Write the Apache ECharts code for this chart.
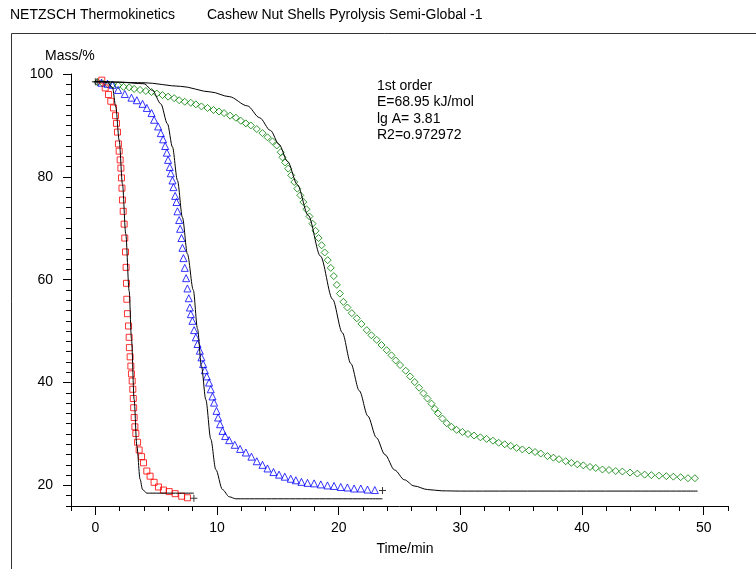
<!DOCTYPE html>
<html>
<head>
<meta charset="utf-8">
<script src="https://cdn.jsdelivr.net/npm/echarts@6/dist/echarts.min.js"></script>
<style>
html,body{margin:0;padding:0;background:#fff;}
#chart{width:756px;height:569px;}
</style>
</head>
<body>
<div id="chart"></div>
<script>
// ---- data (time in min, mass in %) ----
var redTime = [0.53,0.81,1.08,1.27,1.49,1.66,1.74,1.82,1.9,1.96,2.04,2.1,2.15,2.19,2.23,2.29,2.37,2.42,2.48,2.53,2.56,2.59,2.64,2.73,2.78,2.8,2.86,2.92,2.97,3.03,3.08,3.12,3.15,3.19,3.25,3.33,3.47,3.6,3.8,3.96,4.23,4.5,4.83,5.19,5.6,6.07,6.56,7.1,7.57];
var redMass = [98.8,97.3,96.0,94.7,93.4,91.9,90.4,88.7,86.4,85.0,83.3,81.7,79.8,77.8,75.5,73.3,70.8,68.1,65.4,62.4,59.3,56.2,53.4,51.0,48.8,46.8,45.0,43.2,41.7,40.3,38.7,36.9,35.1,33.2,31.4,30.1,28.4,26.9,25.6,24.4,22.8,21.8,20.6,19.7,19.1,18.8,18.4,17.9,17.6];

var blueTime = [0.5,1.0,1.41,1.87,2.42,2.97,3.41,3.88,4.23,4.62,4.83,5.16,5.38,5.57,5.74,5.88,5.98,6.12,6.2,6.34,6.42,6.56,6.67,6.75,6.89,6.97,7.08,7.16,7.24,7.35,7.46,7.57,7.68,7.77,7.85,7.98,8.12,8.26,8.4,8.59,8.72,8.86,9.0,9.16,9.35,9.49,9.63,9.76,9.96,10.09,10.25,10.45,10.67,11.0,11.46,11.9,12.37,12.83,13.27,13.74,14.15,14.64,15.1,15.57,16.06,16.48,16.94,17.44,17.98,18.53,19.08,19.62,20.17,20.72,21.27,21.82,22.37,22.97];
var blueMass = [98.3,98.1,97.9,96.9,96.1,95.4,94.9,94.2,93.4,92.4,91.1,89.8,88.5,87.3,86.0,84.7,83.3,81.9,80.7,79.3,78.0,76.3,75.1,73.3,71.6,69.9,68.1,66.2,64.2,62.3,60.3,58.3,56.4,54.6,53.3,52.0,50.2,48.8,47.5,46.2,44.9,43.6,42.4,41.2,40.0,38.7,37.3,36.1,34.5,33.2,31.9,30.6,29.6,28.8,27.9,27.1,26.4,25.6,24.7,24.0,23.3,22.6,22.1,21.7,21.3,21.0,20.7,20.5,20.4,20.2,20.0,19.9,19.7,19.6,19.4,19.4,19.2,19.1];

var greenTime = [0.18,0.59,1.0,1.41,1.87,2.32,2.78,3.19,3.68,4.15,4.62,5.05,5.52,5.98,6.48,6.89,7.35,7.85,8.26,8.72,9.22,9.71,10.17,10.58,11.08,11.55,11.96,12.37,12.78,13.27,13.74,14.15,14.56,14.91,15.24,15.38,15.6,15.85,16.1,16.35,16.6,16.85,17.1,17.35,17.6,17.85,18.1,18.35,18.6,18.85,19.1,19.35,19.6,19.85,20.1,20.39,20.72,21.08,21.49,21.87,22.31,22.69,23.13,23.52,23.95,24.34,24.69,25.05,25.51,25.87,26.25,26.61,26.97,27.3,27.63,27.9,28.17,28.53,28.88,29.27,29.7,30.17,30.63,31.13,31.65,32.16,32.68,33.15,33.65,34.14,34.63,35.1,35.65,36.14,36.61,37.16,37.65,38.11,38.66,39.13,39.62,40.11,40.66,41.13,41.68,42.22,42.77,43.32,43.95,44.55,45.15,45.7,46.33,46.93,47.51,48.11,48.71,49.28];
var greenMass = [98.4,98.2,98.0,97.9,97.8,97.5,97.4,97.1,96.9,96.7,96.5,96.2,95.9,95.6,95.3,94.9,94.6,94.4,94.1,93.7,93.4,93.0,92.7,92.4,91.9,91.5,90.9,90.4,90.0,89.3,88.5,87.7,86.9,86.1,84.8,83.8,82.8,81.6,80.3,79.0,77.7,76.4,75.1,73.7,72.3,70.9,69.5,68.1,66.7,65.3,63.8,62.3,60.7,59.0,57.3,55.7,54.6,53.5,52.5,51.4,50.2,49.2,48.3,47.3,46.3,45.3,44.3,43.4,42.3,41.2,40.1,39.0,37.9,36.9,35.9,34.9,34.0,33.0,32.1,31.4,30.8,30.4,30.0,29.7,29.35,29.05,28.7,28.3,28.0,27.7,27.3,27.0,26.8,26.5,26.2,25.7,25.4,25.1,24.7,24.4,24.1,23.9,23.6,23.4,23.1,23.0,22.8,22.7,22.5,22.3,22.1,22.0,21.9,21.8,21.7,21.6,21.4,21.4];

// fitted model curves (1st order)
var fitRedTime = [0,0.5,1.0,1.41,1.68,1.96,2.23,2.5,2.78,2.97,3.19,3.41,3.68,3.88,4.23,8.1];
var fitRedMass = [98.5,98.5,98.3,97.4,93.6,87.1,78.6,68.9,57.8,48.5,36.7,27.7,21.2,19.2,18.5,18.5];
var fitBlueTime = [0,2,4.0,4.7,5.38,5.93,6.34,6.75,7.16,7.57,8.05,8.4,8.72,9.08,9.49,9.9,10.45,11.0,11.55,23.6];
var fitBlueMass = [98.5,98.4,98.1,96.8,94.2,90.3,85.8,79.3,72.1,65.0,58.0,50.4,43.2,36.7,29.0,23.1,19.2,17.8,17.4,17.4];
var fitGreenTime = [0,4,7,9.5,11,12.5,13.5,14.4,15.1,15.8,16.6,17.5,18.5,19.5,20.3,21.0,21.7,22.4,23.1,23.8,24.6,25.4,26.2,27.3,28.5,30,49.5];
var fitGreenMass = [98.6,98.3,97.6,96.5,95.6,93.8,91.5,89.0,86.3,83.0,78.5,72.5,64.6,56.2,49.7,43.7,38.4,33.5,29.3,26.0,23.0,21.1,19.9,19.2,18.95,18.9,18.9];

// start / end crosses
var crossTime = [0, 0.15, 8.1, 23.6];
var crossMass = [98.5, 98.5, 17.5, 19.0];

var xTickValues = [0,10,20,30,40,50];
var yTickValues = [20,40,60,80,100];
var yMinorTickValues = ['16','18','20','22','24','26','28','30','32','34','36','38','40','42','44','46','48','50','52','54','56','58','60','62','64','66','68','70','72','74','76','78','80','82','84','86','88','90','92','94','96','98','100'];
var noteLines = ['1st order','E=68.95 kJ/mol','lg A= 3.81','R2=o.972972'];

function zip(a,b){ var r=[]; for(var i=0;i<a.length;i++) r.push([a[i],b[i]]); return r; }

var FONT = 'Liberation Sans, Arial, sans-serif';
var chart = echarts.init(document.getElementById('chart'), null, {renderer:'canvas'});

var gLeft = 71, gTop = 74, gW = 657, gH = 432;
var xMin = -2, xMax = 52, yMin = 16, yMax = 100;
var pxX = gW/(xMax-xMin), pxY = gH/(yMax-yMin);

function lineSeries(t,m){
  return {type:'line', xAxisIndex:0, yAxisIndex:0, data: zip(t,m), showSymbol:false, symbol:'none',
    smooth:0.3, smoothMonotone:'x', lineStyle:{color:'#000', width:1}, z:3, silent:true, animation:false};
}
function scatterSeries(t,m,sym,size,col){
  return {type:'scatter', xAxisIndex:0, yAxisIndex:0, data: zip(t,m), symbol:sym, symbolSize:size,
    itemStyle:{color:'rgba(0,0,0,0)', borderColor:col, borderWidth:1}, z:2, silent:true, animation:false};
}

var graphics = [
  {type:'rect', shape:{x:11.5, y:33.5, width:800, height:600}, style:{fill:'none', stroke:'#333', lineWidth:1}, silent:true},
  {type:'text', x:10, y:15, style:{text:'NETZSCH Thermokinetics', font:'14px '+FONT, fill:'#000', verticalAlign:'middle'}},
  {type:'text', x:207, y:15, style:{text:'Cashew Nut Shells Pyrolysis Semi-Global -1', font:'14px '+FONT, fill:'#000', verticalAlign:'middle'}},
  {type:'text', x:45, y:56, style:{text:'Mass/%', font:'14px '+FONT, fill:'#000', verticalAlign:'middle'}},
  {type:'text', x:405, y:549, style:{text:'Time/min', font:'14px '+FONT, fill:'#000', align:'center', verticalAlign:'middle'}}
];
noteLines.forEach(function(s,i){
  graphics.push({type:'text', x:377, y:86+i*16.4, style:{text:s, font:'14px '+FONT, fill:'#000', verticalAlign:'middle'}});
});

var option = {
  animation:false,
  backgroundColor:'#fff',
  grid:[
    {left:gLeft, top:gTop, width:gW, height:gH},
    {left:gLeft + (0-xMin)*pxX, top:gTop, width:50*pxX, height:gH},
    {left:gLeft, top:gTop, width:gW, height:(yMax-20)*pxY},
    {left:gLeft, top:gTop, width:gW, height:gH}
  ],
  xAxis:[
    {type:'value', gridIndex:0, min:xMin, max:xMax, interval:2, position:'bottom',
      axisLine:{show:true, onZero:false, lineStyle:{color:'#000', width:1}}, axisTick:{show:true, length:5, lineStyle:{color:'#000'}},
      axisLabel:{show:false}, splitLine:{show:false}},
    {type:'value', gridIndex:1, min:0, max:50, interval:10, position:'bottom',
      axisLine:{show:false, onZero:false}, axisTick:{show:true, length:9, lineStyle:{color:'#000'}},
      axisLabel:{show:true, margin:15, fontSize:14, fontFamily:FONT, color:'#000',
        formatter:function(v){ return xTickValues.indexOf(v)>=0 ? String(v) : ''; }},
      splitLine:{show:false}},
    {type:'value', gridIndex:2, min:0, max:1, show:false},
    {type:'value', gridIndex:3, min:0, max:1, show:false}
  ],
  yAxis:[
    {type:'value', gridIndex:0, min:yMin, max:yMax, interval:2, position:'left',
      axisLine:{show:true, onZero:false, lineStyle:{color:'#000', width:1}},
      axisTick:{show:true, length:5, lineStyle:{color:'#000', width:1}},
      axisLabel:{show:false}, splitLine:{show:false}},
    {type:'value', gridIndex:1, min:0, max:1, show:false},
    {type:'value', gridIndex:2, min:20, max:100, interval:20, position:'left',
      axisLine:{show:false, onZero:false}, axisTick:{show:true, length:8, lineStyle:{color:'#000'}},
      minorTick:{show:true, splitNumber:10, length:5, lineStyle:{color:'#000', width:1}},
      axisLabel:{show:true, margin:18, fontSize:14, fontFamily:FONT, color:'#000',
        formatter:function(v){ return yTickValues.indexOf(v)>=0 ? String(v) : ''; }},
      splitLine:{show:false}, minorSplitLine:{show:false}},
    {type:'category', gridIndex:3, data:yMinorTickValues, boundaryGap:false, position:'left',
      axisLine:{show:false, onZero:false},
      axisTick:{show:true, interval:0, length:5, lineStyle:{color:'#000', width:1}},
      axisLabel:{show:false}, splitLine:{show:false}}
  ],
  graphic: graphics,
  series:[
    scatterSeries(greenTime, greenMass, 'diamond', 7, '#008000'),
    scatterSeries(blueTime, blueMass, 'triangle', 7, '#0000ff'),
    scatterSeries(redTime, redMass, 'rect', 6, '#ff0000'),
    lineSeries(fitRedTime, fitRedMass),
    lineSeries(fitBlueTime, fitBlueMass),
    lineSeries(fitGreenTime, fitGreenMass),
    {type:'scatter', xAxisIndex:0, yAxisIndex:0, data: zip(crossTime, crossMass),
      symbol:'path://M3,0h1v3h3v1h-3v3h-1v-3h-3v-1h3z', symbolSize:7,
      itemStyle:{color:'#000'}, z:4, silent:true, animation:false}
  ]
};
chart.setOption(option);
</script>
</body>
</html>
